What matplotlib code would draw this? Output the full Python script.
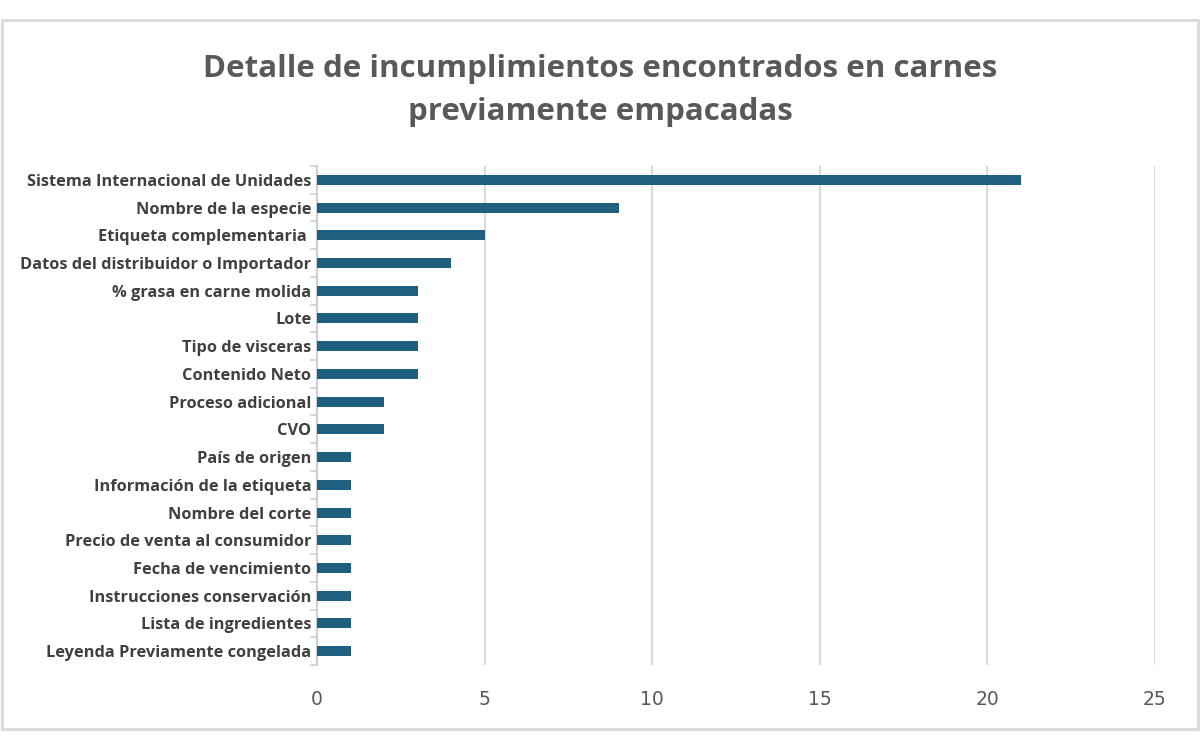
import matplotlib.pyplot as plt
import numpy as np
from matplotlib.patches import Rectangle

categorias = [
    "Sistema Internacional de Unidades",
    "Nombre de la especie",
    "Etiqueta complementaria ",
    "Datos del distribuidor o Importador",
    "% grasa en carne molida",
    "Lote",
    "Tipo de visceras",
    "Contenido Neto",
    "Proceso adicional",
    "CVO",
    "País de origen",
    "Información de la etiqueta",
    "Nombre del corte",
    "Precio de venta al consumidor",
    "Fecha de vencimiento",
    "Instrucciones conservación",
    "Lista de ingredientes",
    "Leyenda Previamente congelada",
]
valores = [21, 9, 5, 4, 3, 3, 3, 3, 2, 2, 1, 1, 1, 1, 1, 1, 1, 1]
x_ticks = [0, 5, 10, 15, 20, 25]

fig = plt.figure(figsize=(12, 7.52), dpi=100)
ax = fig.add_axes([0.2642, 0.1157, 0.6983, 0.6636])

y = np.arange(len(categorias))
ax.barh(y, valores, height=0.36, color='#1F5F80', zorder=3)

ax.set_ylim(len(categorias) - 0.5, -0.5)
ax.set_xlim(0, 25)
ax.set_xticks(x_ticks)
ax.set_xticklabels([str(t) for t in x_ticks], fontsize=13.5, color='#595959',
                   family='DejaVu Sans')
ax.tick_params(axis='x', length=0, pad=18)

ax.set_yticks(y)
ax.set_yticklabels(categorias, fontsize=11.8, fontweight='bold', color='#404040',
                   family='Open Sans')
ax.tick_params(axis='y', which='major', length=0, pad=4)
ax.set_yticks(np.arange(-0.5, len(categorias)), minor=True)
ax.tick_params(axis='y', which='minor', length=5, width=1.2, color='#D0D0D0')

ax.grid(axis='x', color='#D9D9D9', linewidth=1.5, zorder=0)
for s in ['top', 'right', 'bottom']:
    ax.spines[s].set_visible(False)
ax.spines['left'].set_color('#D0D0D0')
ax.spines['left'].set_linewidth(1.5)

fig.text(0.5, 0.880, "Detalle de incumplimientos encontrados en carnes\npreviamente empacadas",
         ha='center', va='center', fontsize=22.5, fontweight='bold', color='#595959',
         family='Open Sans', linespacing=1.55)

fig.patches.append(Rectangle((0.002, 0.03), 0.996, 0.944, transform=fig.transFigure,
                             fill=False, edgecolor='#D9D9D9', linewidth=2))

fig.savefig('out.png', dpi=100)
